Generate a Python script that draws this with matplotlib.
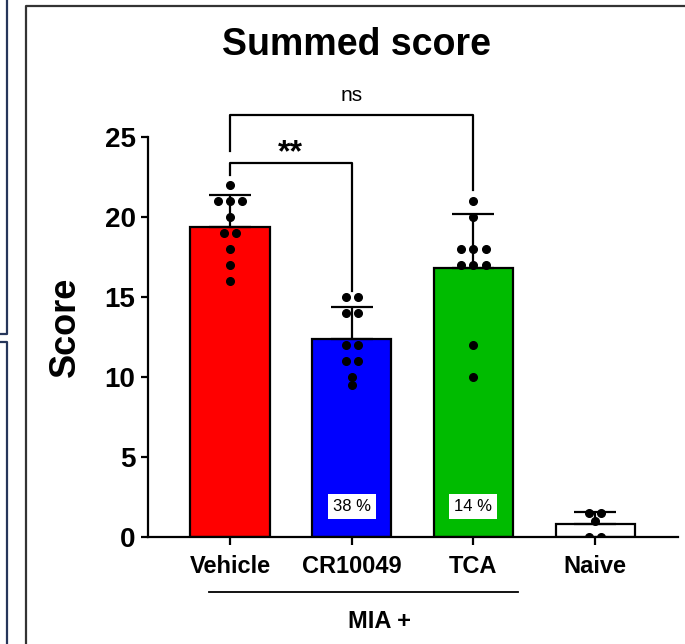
import numpy as np
import matplotlib
matplotlib.use("Agg")
from matplotlib import pyplot as plt
from matplotlib.lines import Line2D

plt.rcParams['font.family'] = ['Liberation Sans', 'DejaVu Sans']

# individual animal scores per group
grupos = ["Vehicle", "CR10049", "TCA", "Naive"]
veiculo = [22, 21, 21, 21, 20, 19, 19, 18, 17, 16]
cr10049 = [15, 15, 14, 14, 12, 12, 11, 11, 10, 9.5]
tca = [21, 20, 18, 18, 18, 17, 17, 17, 12, 10]
naive = [1.5, 1.5, 1, 0, 0]
cores = ["#ff0000", "#0000ff", "#00bb00", "#ffffff"]

# % reduction printed inside the treated bars
reducao = {1: "38 %", 2: "14 %"}

dados = [veiculo, cr10049, tca, naive]
medias = [np.mean(d) for d in dados]
desvios = [np.std(d, ddof=1) for d in dados]


# espalha pontos repetidos lado a lado (estilo beeswarm)
def deslocamentos(valores, passo=0.1):
    valores = np.asarray(valores, dtype=float)
    dx = np.zeros(len(valores))
    for v in np.unique(valores):
        idx = np.where(valores == v)[0]
        k = len(idx)
        dx[idx] = (np.arange(k) - (k - 1) / 2) * passo
    return dx


fig = plt.figure(figsize=(6.85, 6.44), dpi=100)
ax = fig.add_axes([148 / 685, 1 - 537 / 644, 530 / 685, 400 / 644])

x = np.arange(len(grupos))
ax.bar(x, medias, width=0.65, color=cores, edgecolor="black", linewidth=1.6, zorder=2)
ax.errorbar(x, medias, yerr=[np.zeros(len(x)), desvios], fmt="none",
            ecolor="black", elinewidth=1.6, capsize=15, capthick=1.6, zorder=3)

for i, d in enumerate(dados):
    ax.plot(i + deslocamentos(d), d, "o", color="black", markersize=5.5,
            linestyle="none", zorder=4)

for i, txt in reducao.items():
    ax.text(i, 1.9, txt, ha="center", va="center", fontsize=12,
            bbox=dict(boxstyle="square,pad=0.3", facecolor="white", edgecolor="none"),
            zorder=5)

# brackets de significancia
def colchete(x0, x1, y, y0, y1, rotulo, ty, fs, peso):
    ax.plot([x0, x0, x1, x1], [y0, y, y, y1], color="black", linewidth=1.6,
            clip_on=False, zorder=3)
    ax.text((x0 + x1) / 2, ty, rotulo, ha="center", va="center",
            fontsize=fs, fontweight=peso)

colchete(0, 2, 26.4, 24.1, 21.7, "ns", 27.6, 15, "normal")
colchete(0, 1, 23.4, 22.6, 15.4, "**", 24.0, 23, "bold")

ax.set_ylim(0, 25)
ax.set_xlim(-0.674, 3.681)
ax.set_yticks([0, 5, 10, 15, 20, 25])
ax.set_xticks(x)
ax.set_xticklabels(grupos, fontsize=17, fontweight="bold")
for lbl in ax.get_yticklabels():
    lbl.set_fontsize(20)
    lbl.set_fontweight("bold")
ax.tick_params(axis="y", length=5, width=1.6, pad=4)
ax.tick_params(axis="x", length=6, width=1.6, pad=7)
ax.spines["top"].set_visible(False)
ax.spines["right"].set_visible(False)
ax.spines["left"].set_linewidth(1.6)
ax.spines["bottom"].set_linewidth(1.6)

# MIA + group underline
ax.plot([-0.174, 2.366], [-3.45, -3.45], color="black", linewidth=1.3, clip_on=False)
ax.text(1.23, -5.25, "MIA +", ha="center", va="center", fontsize=17, fontweight="bold")

fig.text(357 / 685, 1 - 45 / 644, "Summed score", ha="center", va="center",
         fontsize=27, fontweight="bold")
fig.text(65 / 685, 1 - 327 / 644, "Score", ha="center", va="center", rotation=90,
         fontsize=26, fontweight="bold")

# moldura em volta do grafico
fig.add_artist(Line2D([26 / 685, 26 / 685, 1], [0, 1 - 6 / 644, 1 - 6 / 644],
                      color="#333333", linewidth=1.6, transform=fig.transFigure))
azul = "#26365a"
fig.add_artist(Line2D([7 / 685, 7 / 685, 0], [1, 1 - 334 / 644, 1 - 334 / 644],
                      color=azul, linewidth=1.6, transform=fig.transFigure))
fig.add_artist(Line2D([0, 7 / 685, 7 / 685], [1 - 342 / 644, 1 - 342 / 644, 0],
                      color=azul, linewidth=1.6, transform=fig.transFigure))

fig.savefig("out.png", dpi=100)
